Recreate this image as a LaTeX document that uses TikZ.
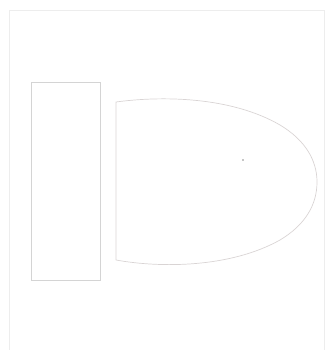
\documentclass[tikz,border=0pt]{standalone}
\begin{document}
\begin{tikzpicture}[x=1pt,y=-1pt,
  frameline/.style={draw=black!7,line width=0.8pt},
  fixture/.style={draw=black!17,line width=0.7pt},
  bowlline/.style={draw=red!12!black!17,line width=0.7pt}]
\useasboundingbox (0,0) rectangle (327,350);
% outer frame
\coordinate (fbl) at (9,350);
\coordinate (ftl) at (9,10);
\coordinate (ftr) at (324,10);
\coordinate (fbr) at (324,350);
\draw[frameline] (fbl) -- (ftl) -- (ftr) -- (fbr);
% tank
\node[fixture,rectangle,minimum width=69pt,minimum height=198pt,inner sep=0pt] (tank) at (65.5,181) {};
% bowl
\coordinate (bt) at (116,102);
\coordinate (bb) at (116,260);
\draw[bowlline] (bb) -- (bt)
  .. controls (160,96) and (230,96) .. (280,125)
  .. controls (305,140) and (317,160) .. (317,182)
  .. controls (317,205) and (305,225) .. (280,240)
  .. controls (230,268) and (160,268) .. (bb);
% small dot
\node[fill=black!45,circle,inner sep=0pt,minimum size=1.6pt] (dot) at (243,160) {};
\end{tikzpicture}
\end{document}
